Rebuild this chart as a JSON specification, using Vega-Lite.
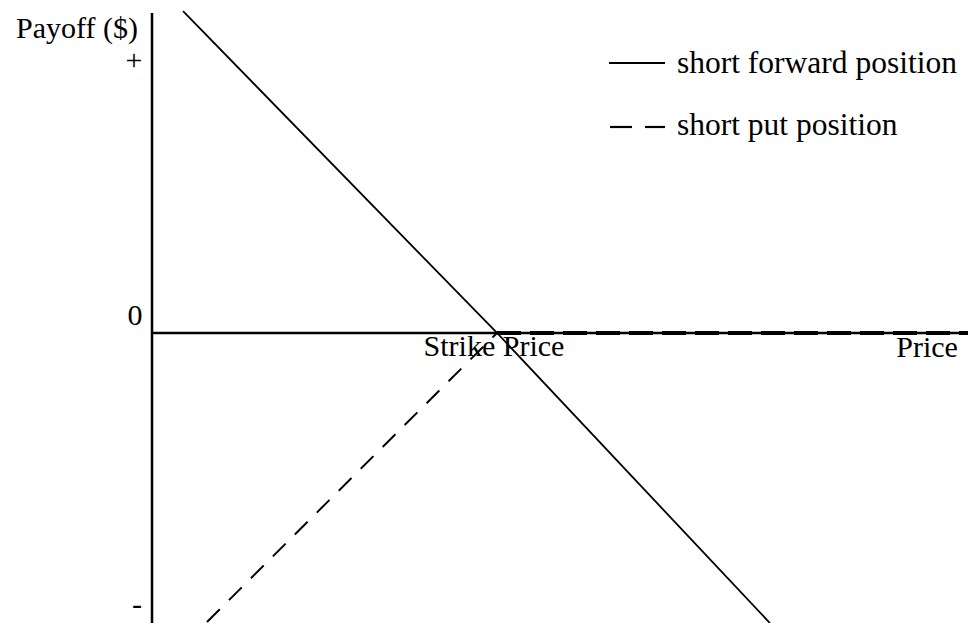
{
  "$schema": "https://vega.github.io/schema/vega-lite/v6.json",
  "width": 968,
  "height": 623,
  "padding": 0,
  "autosize": {"type": "fit", "contains": "padding"},
  "background": "white",
  "config": {"view": {"stroke": null}, "text": {"font": "Liberation Serif", "color": "black"}},
  "datasets": {
    "axes": [
      {"x": 0, "x2": 0, "y": -84.06, "y2": 92.75},
      {"x": 0, "x2": 236.52, "y": 0, "y2": 0}
    ],
    "forward": [
      {"price": 9, "payoff": 93.3},
      {"price": 100, "payoff": 0},
      {"price": 179.1, "payoff": -84.06}
    ],
    "putDiag": [
      {"price": 15.94, "payoff": -83.77},
      {"price": 100, "payoff": 0}
    ],
    "putFlat": [
      {"price": 100, "payoff": 0},
      {"price": 236.52, "payoff": 0}
    ],
    "legendSolid": [{"x": 132.46, "x2": 148.7, "y": 78.26}],
    "legendDash": [
      {"x": 132.75, "x2": 139.13, "y": 59.71},
      {"x": 142.9, "x2": 148.7, "y": 59.71}
    ],
    "labelPayoff": [{"x": -4.06, "y": 85.51, "t": "Payoff ($)"}],
    "labelTicks": [
      {"x": -5.22, "y": 76.09, "t": "+"},
      {"x": -4.93, "y": 2.32, "t": "0"},
      {"x": -4.35, "y": -81.45, "t": "-"}
    ],
    "labelStrike": [{"x": 99.13, "y": -6.67, "t": "Strike Price"}],
    "labelPrice": [{"x": 233.6, "y": -6.96, "t": "Price"}],
    "labelsLegend": [
      {"x": 152.17, "y": 75.36, "t": "short forward position"},
      {"x": 152.17, "y": 57.39, "t": "short put position"}
    ]
  },
  "layer": [
    {
      "data": {"name": "axes"},
      "mark": {"type": "rule", "color": "black", "strokeWidth": 2.5, "clip": true},
      "encoding": {
        "x": {"field": "x", "type": "quantitative", "scale": {"domain": [-44.06, 236.52], "nice": false, "zero": false}, "axis": null},
        "x2": {"field": "x2"},
        "y": {"field": "y", "type": "quantitative", "scale": {"domain": [-84.06, 96.52], "nice": false, "zero": false}, "axis": null},
        "y2": {"field": "y2"}
      }
    },
    {
      "data": {"name": "forward"},
      "mark": {"type": "line", "color": "black", "strokeWidth": 1.8, "clip": true},
      "encoding": {
        "x": {"field": "price", "type": "quantitative"},
        "y": {"field": "payoff", "type": "quantitative"}
      }
    },
    {
      "data": {"name": "putDiag"},
      "mark": {"type": "line", "color": "black", "strokeWidth": 2, "strokeDash": [18, 13], "clip": true},
      "encoding": {
        "x": {"field": "price", "type": "quantitative"},
        "y": {"field": "payoff", "type": "quantitative"}
      }
    },
    {
      "data": {"name": "putFlat"},
      "mark": {"type": "line", "color": "black", "strokeWidth": 4, "strokeDash": [24, 9], "clip": true},
      "encoding": {
        "x": {"field": "price", "type": "quantitative"},
        "y": {"field": "payoff", "type": "quantitative"}
      }
    },
    {
      "data": {"name": "legendSolid"},
      "mark": {"type": "rule", "color": "black", "strokeWidth": 1.8},
      "encoding": {
        "x": {"field": "x", "type": "quantitative"},
        "x2": {"field": "x2"},
        "y": {"field": "y", "type": "quantitative"}
      }
    },
    {
      "data": {"name": "legendDash"},
      "mark": {"type": "rule", "color": "black", "strokeWidth": 2.2},
      "encoding": {
        "x": {"field": "x", "type": "quantitative"},
        "x2": {"field": "x2"},
        "y": {"field": "y", "type": "quantitative"}
      }
    },
    {
      "data": {"name": "labelPayoff"},
      "mark": {"type": "text", "align": "right", "baseline": "alphabetic", "fontSize": 30},
      "encoding": {
        "x": {"field": "x", "type": "quantitative"},
        "y": {"field": "y", "type": "quantitative"},
        "text": {"field": "t"}
      }
    },
    {
      "data": {"name": "labelTicks"},
      "mark": {"type": "text", "align": "center", "baseline": "alphabetic", "fontSize": 30},
      "encoding": {
        "x": {"field": "x", "type": "quantitative"},
        "y": {"field": "y", "type": "quantitative"},
        "text": {"field": "t"}
      }
    },
    {
      "data": {"name": "labelStrike"},
      "mark": {"type": "text", "align": "center", "baseline": "alphabetic", "fontSize": 30},
      "encoding": {
        "x": {"field": "x", "type": "quantitative"},
        "y": {"field": "y", "type": "quantitative"},
        "text": {"field": "t"}
      }
    },
    {
      "data": {"name": "labelPrice"},
      "mark": {"type": "text", "align": "right", "baseline": "alphabetic", "fontSize": 30},
      "encoding": {
        "x": {"field": "x", "type": "quantitative"},
        "y": {"field": "y", "type": "quantitative"},
        "text": {"field": "t"}
      }
    },
    {
      "data": {"name": "labelsLegend"},
      "mark": {"type": "text", "align": "left", "baseline": "alphabetic", "fontSize": 31.5},
      "encoding": {
        "x": {"field": "x", "type": "quantitative"},
        "y": {"field": "y", "type": "quantitative"},
        "text": {"field": "t"}
      }
    }
  ]
}
